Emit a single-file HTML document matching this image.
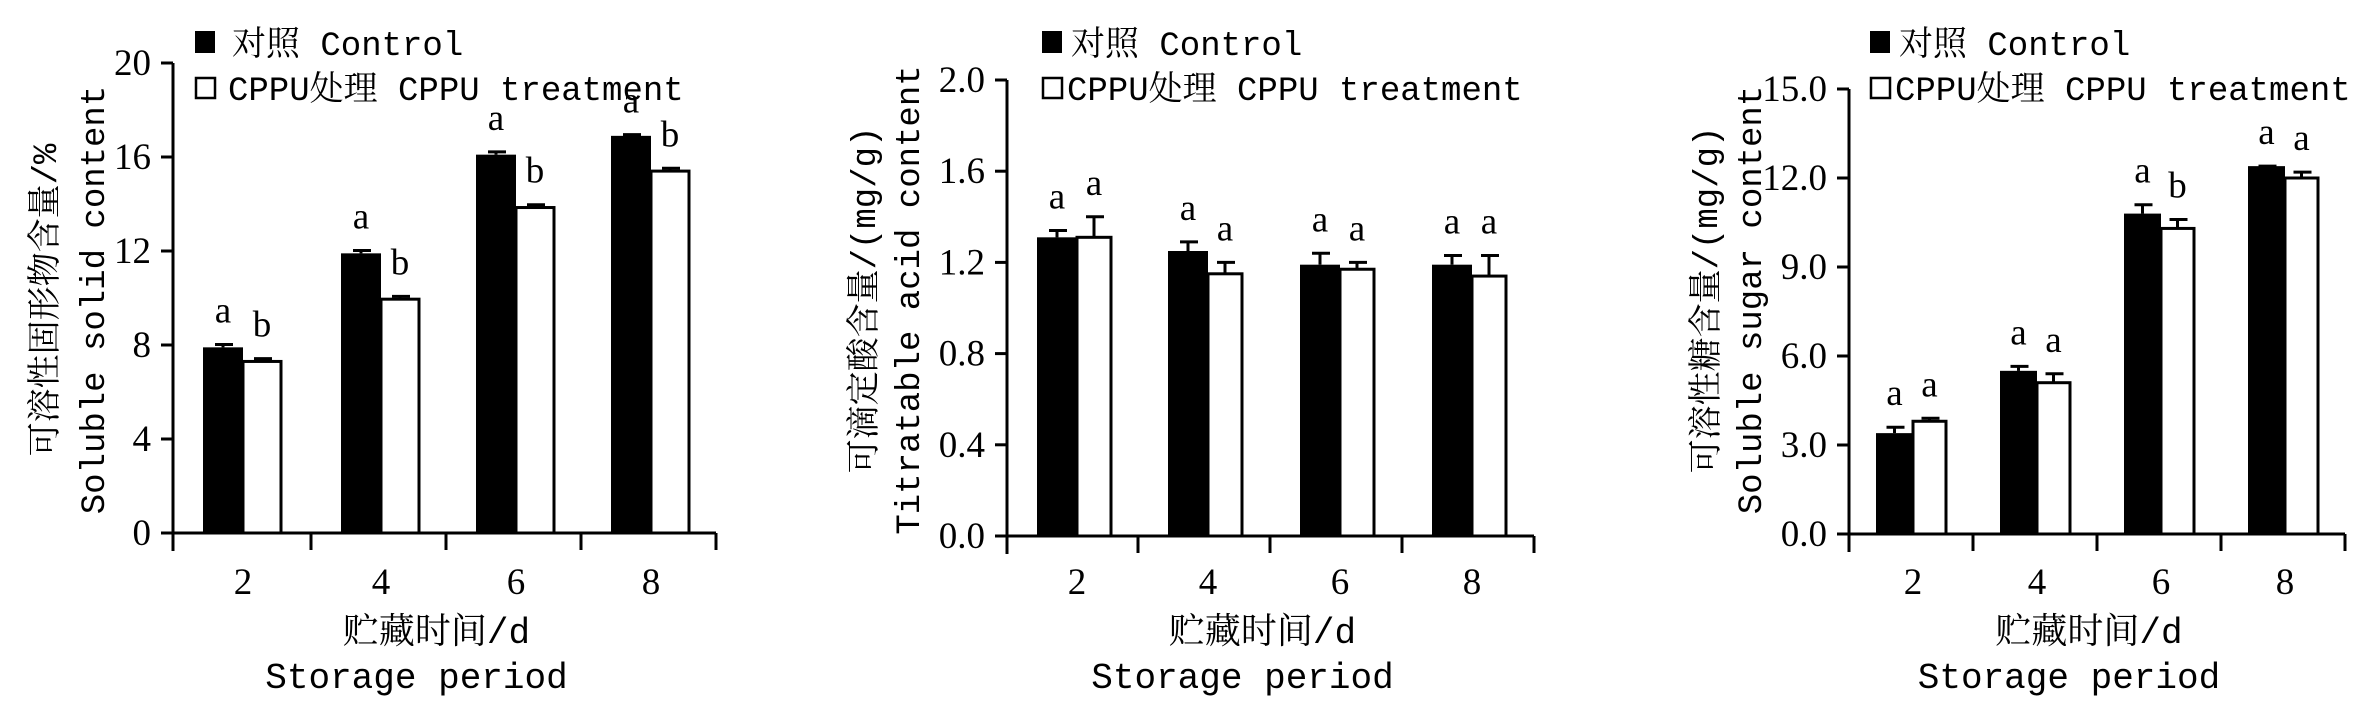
<!DOCTYPE html>
<html><head><meta charset="utf-8"><style>
html,body{margin:0;padding:0;background:#fff;}
svg{display:block;}
.tk{font-family:"Liberation Serif","Noto Serif CJK SC",serif;font-size:37px;fill:#000;}
.lg{font-family:"Liberation Mono","Noto Serif CJK SC",monospace;font-size:34px;fill:#000;}
.ttl{font-family:"Liberation Mono","Noto Serif CJK SC",monospace;font-size:34px;fill:#000;}
.xt{font-family:"Liberation Mono","Noto Serif CJK SC",monospace;font-size:36px;fill:#000;}
</style></head><body>
<svg id="chart" width="2372" height="709" viewBox="0 0 2372 709" xmlns="http://www.w3.org/2000/svg"></svg>
<script>
const categories = ["2","4","6","8"];
const ssControl = [7.9, 11.9, 16.1, 16.9];
const ssControlErr = [0.12, 0.12, 0.12, 0.05];
const ssTreat = [7.3, 9.95, 13.85, 15.4];
const ssTreatErr = [0.12, 0.12, 0.12, 0.12];
const ssLettersC = ["a","a","a","a"];
const ssLettersT = ["b","b","b","b"];
const ssTicks = ["0","4","8","12","16","20"];

const taControl = [1.31, 1.25, 1.19, 1.19];
const taControlErr = [0.03, 0.04, 0.05, 0.04];
const taTreat = [1.31, 1.15, 1.17, 1.14];
const taTreatErr = [0.09, 0.05, 0.03, 0.09];
const taLettersC = ["a","a","a","a"];
const taLettersT = ["a","a","a","a"];
const taTicks = ["0.0","0.4","0.8","1.2","1.6","2.0"];

const sgControl = [3.4, 5.5, 10.8, 12.4];
const sgControlErr = [0.2, 0.15, 0.3, 0.0];
const sgTreat = [3.8, 5.1, 10.3, 12.0];
const sgTreatErr = [0.1, 0.3, 0.3, 0.2];
const sgLettersC = ["a","a","a","a"];
const sgLettersT = ["a","a","b","a"];
const sgTicks = ["0.0","3.0","6.0","9.0","12.0","15.0"];

const NS = "http://www.w3.org/2000/svg";
const svg = document.getElementById("chart");
function mk(tag, attrs, parent){
  const e = document.createElementNS(NS, tag);
  for (const k in attrs) e.setAttribute(k, attrs[k]);
  (parent||svg).appendChild(e);
  return e;
}

const panels = [
  {id:"soluble-solid", ax:173, zero:533, top:63, ymax:20, cw:135, first:138, off:30, bw:40, ww:38,
   c:ssControl, ce:ssControlErr, t:ssTreat, te:ssTreatErr, lc:ssLettersC, lt:ssLettersT, ticks:ssTicks,
   t1:"可溶性固形物含量/%", t2:"Soluble solid content", tx1:-129, tx2:-81, lx:195, ltx:37},
  {id:"titratable-acid", ax:1007, zero:536, top:80, ymax:2.0, cw:132, first:131, off:30, bw:40, ww:34,
   c:taControl, ce:taControlErr, t:taTreat, te:taTreatErr, lc:taLettersC, lt:taLettersT, ticks:taTicks,
   t1:"可滴定酸含量/(mg/g)", t2:"Titratable acid content", tx1:-144, tx2:-100, lx:1042, ltx:29},
  {id:"soluble-sugar", ax:1849, zero:534, top:89, ymax:15, cw:124, first:124, off:27, bw:37, ww:33,
   c:sgControl, ce:sgControlErr, t:sgTreat, te:sgTreatErr, lc:sgLettersC, lt:sgLettersT, ticks:sgTicks,
   t1:"可溶性糖含量/(mg/g)", t2:"Soluble sugar content", tx1:-144, tx2:-100, lx:1870, ltx:29}
];

panels.forEach(p => {
  const g = mk("g", {});
  
  
  const y = v => p.zero - (v / p.ymax) * (p.zero - p.top);
  const catLeft = i => i === 0 ? p.ax : p.ax + p.first + (i-1)*p.cw;
  const catRight = i => p.ax + p.first + i*p.cw;
  const xEnd = catRight(categories.length-1);

  // y axis
  const ya = mk("line", {x1:p.ax, y1:p.top, x2:p.ax, y2:p.zero+18, stroke:"#000","stroke-width":3}, g);
  
  
  const xa = mk("line", {x1:p.ax-12, y1:p.zero, x2:xEnd, y2:p.zero, stroke:"#000","stroke-width":3}, g);
  
  

  p.ticks.forEach((lab, k) => {
    const v = p.ymax * k / (p.ticks.length-1);
    const ty = y(v);
    const tl = mk("line", {x1:p.ax-12, y1:ty, x2:p.ax, y2:ty, stroke:"#000","stroke-width":3}, g);
    
    
    const tt = mk("text", {x:p.ax-22, y:ty+12, "text-anchor":"end", class:"tk"}, g);
    tt.textContent = lab;
    
    
  });

  categories.forEach((cat, i) => {
    const tx = catRight(i);
    const tk = mk("line", {x1:tx, y1:p.zero, x2:tx, y2:p.zero+17, stroke:"#000","stroke-width":3}, g);
    
    
    const bx = catLeft(i) + p.off;
    // control bar
    const cy = y(p.c[i]);
    const cb = mk("rect", {x:bx, y:cy, width:p.bw, height:p.zero-cy, fill:"#000"}, g);
    
    
    const ce = y(p.c[i] + p.ce[i]);
    const e1 = mk("path", {d:`M${bx+p.bw/2},${cy} V${ce} M${bx+p.bw/2-8},${ce} H${bx+p.bw/2+10}`, stroke:"#000","stroke-width":3, fill:"none"}, g);
    
    
    // treatment bar
    const wx = bx + p.bw;
    const wy = y(p.t[i]);
    const wb = mk("rect", {x:wx, y:wy, width:p.ww, height:p.zero-wy, fill:"#fff", stroke:"#000","stroke-width":3}, g);
    
    
    const we = y(p.t[i] + p.te[i]);
    const e2 = mk("path", {d:`M${wx+p.ww/2},${wy} V${we} M${wx+p.ww/2-8},${we} H${wx+p.ww/2+10}`, stroke:"#000","stroke-width":3, fill:"none"}, g);
    
    
    // letters
    const l1 = mk("text", {x:bx+p.bw/2, y:ce-22, "text-anchor":"middle", class:"tk"}, g);
    l1.textContent = p.lc[i];
    
    
    const l2 = mk("text", {x:wx+p.ww/2, y:we-22, "text-anchor":"middle", class:"tk"}, g);
    l2.textContent = p.lt[i];
    
    
    // x label
    const xl = mk("text", {x:bx+p.bw, y:594, "text-anchor":"middle", class:"tk"}, g);
    xl.textContent = cat;
    
    
  });

  const xc = (p.ax + xEnd)/2 - 8;
  const x1 = mk("text", {x:xc, y:643, "text-anchor":"middle", class:"xt"}, g);
  x1.textContent = "贮藏时间/d";
  
  
  const x2 = mk("text", {x:xc-20, y:688, "text-anchor":"middle", class:"xt"}, g);
  x2.textContent = "Storage period";
  
  

  const cyT = 300;
  const a1 = mk("text", {x:0, y:0, "text-anchor":"middle", class:"ttl", transform:`translate(${p.ax+p.tx1+12},${cyT}) rotate(-90)`}, g);
  a1.textContent = p.t1;
  
  
  const a2 = mk("text", {x:0, y:0, "text-anchor":"middle", class:"ttl", transform:`translate(${p.ax+p.tx2+12},${cyT}) rotate(-90)`}, g);
  a2.textContent = p.t2;
  
  

  // legend
  const s1 = mk("rect", {x:p.lx, y:31, width:20, height:22, fill:"#000"}, g);
  
  
  const t1 = mk("text", {x:p.lx+p.ltx, y:55, class:"lg"}, g);
  t1.textContent = "对照 Control";
  
  
  const s2 = mk("rect", {x:p.lx+1, y:78, width:19, height:20, fill:"#fff", stroke:"#000","stroke-width":2.5}, g);
  
  
  const t2 = mk("text", {x:p.lx+p.ltx-4, y:100, class:"lg"}, g);
  t2.textContent = "CPPU处理 CPPU treatment";
  
  
});
</script>
</body></html>
